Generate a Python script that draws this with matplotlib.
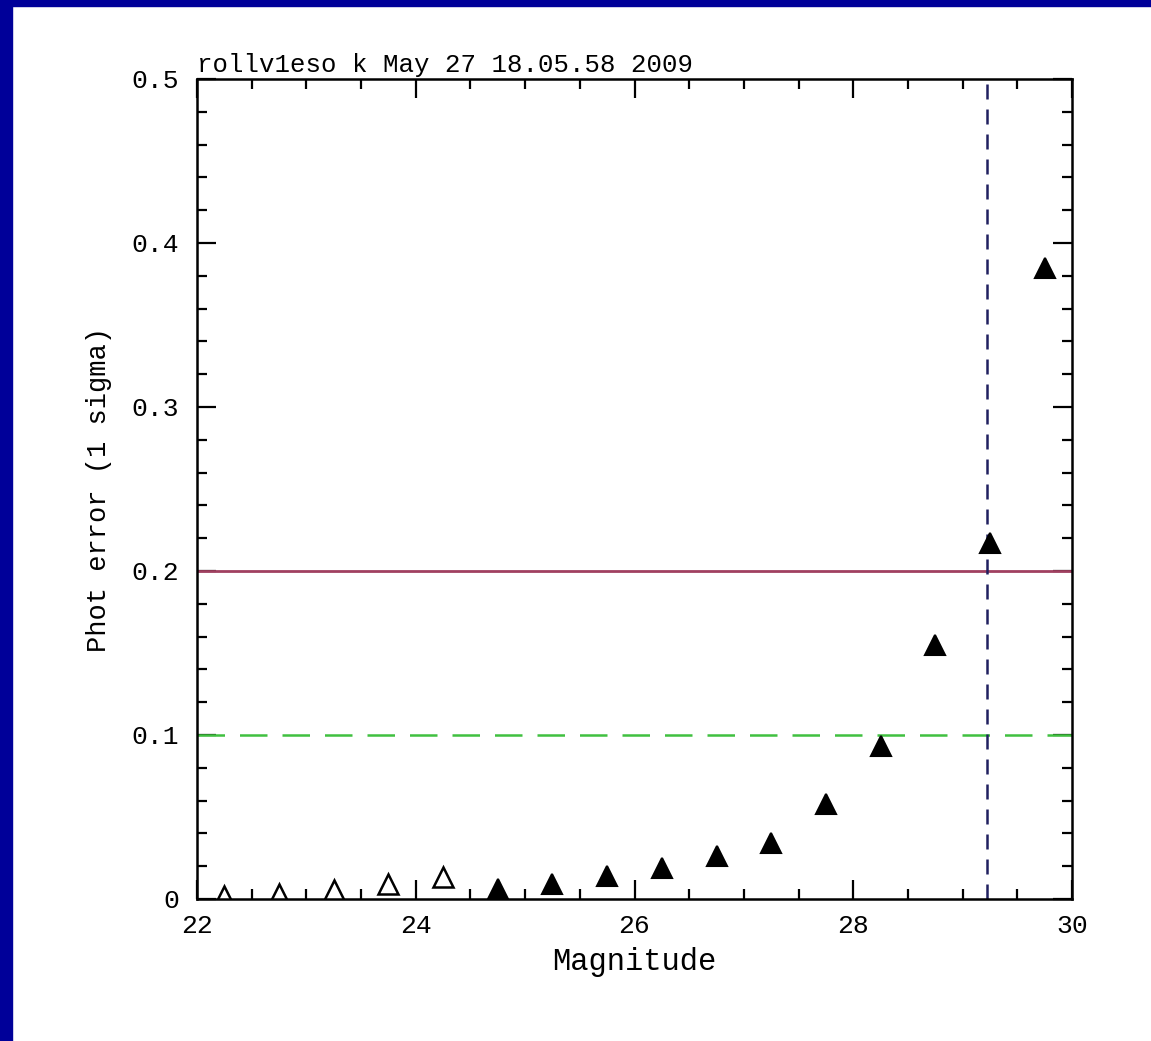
import matplotlib
matplotlib.use("Agg")
import matplotlib.pyplot as plt
from matplotlib.patches import Rectangle
from matplotlib.ticker import MultipleLocator, FixedLocator

plt.rcParams['font.family'] = ['Liberation Mono', 'DejaVu Sans Mono']

# faint stars (open triangles) and detections (filled triangles)
mag_open = [22.25, 22.75, 23.25, 23.75, 24.25]
err_open = [0.002, 0.003, 0.0055, 0.009, 0.0135]
mag_fill = [24.75, 25.25, 25.75, 26.25, 26.75, 27.25, 27.75, 28.25, 28.75, 29.25, 29.75]
err_fill = [0.006, 0.009, 0.014, 0.019, 0.026, 0.034, 0.058, 0.093, 0.155, 0.217, 0.385]

limit_red = 0.2
limit_green = 0.1
limit_mag = 29.22

xticks = [22, 24, 26, 28, 30]
yticks = [0, 0.1, 0.2, 0.3, 0.4, 0.5]
yticklabels = ['0', '0.1', '0.2', '0.3', '0.4', '0.5']
title = "rollv1eso k May 27 18.05.58 2009"

fig = plt.figure(figsize=(11.51, 10.41), dpi=100)
fig.patch.set_facecolor('white')

# slide frame: blue strip on left and top
fig.patches.append(Rectangle((0, 0), 12 / 1151, 1, transform=fig.transFigure,
                             color='#000099', zorder=0))
fig.patches.append(Rectangle((0, 1 - 6 / 1041), 1, 6 / 1041, transform=fig.transFigure,
                             color='#000099', zorder=0))

ax = fig.add_axes([197 / 1151, 142 / 1041, 875 / 1151, 820 / 1041])
ax.set_xlim(22, 30)
ax.set_ylim(0, 0.5)

ax.axhline(limit_red, color='#a04060', lw=2)
ax.axhline(limit_green, color='#40c040', lw=1.8, dashes=(11, 6))
ax.axvline(limit_mag, color='#202060', lw=1.8, dashes=(6, 4))

ax.plot(mag_open, err_open, '^', ms=15, mfc='white', mec='black', mew=1.8)
ax.plot(mag_fill, err_fill, '^', ms=15, mfc='black', mec='black', mew=1.5)

ax.xaxis.set_major_locator(FixedLocator(xticks))
ax.xaxis.set_minor_locator(MultipleLocator(0.5))
ax.yaxis.set_major_locator(FixedLocator(yticks))
ax.yaxis.set_minor_locator(MultipleLocator(0.02))
ax.set_yticklabels(yticklabels)

ax.tick_params(which='both', direction='in', top=True, right=True, width=1.6, color='black')
ax.tick_params(which='major', length=14)
ax.tick_params(which='minor', length=7)
ax.tick_params(axis='x', which='major', labelsize=19, pad=11)
ax.tick_params(axis='y', which='major', labelsize=19, pad=13)

for sp in ax.spines.values():
    sp.set_linewidth(1.8)

ax.set_xlabel("Magnitude", fontsize=22, labelpad=6)
ax.set_ylabel("Phot error (1 sigma)", fontsize=19.5, labelpad=14)
ax.text(0, 1.003, title, transform=ax.transAxes, ha='left', va='bottom', fontsize=18.5)

fig.savefig("out.png", dpi=100)
